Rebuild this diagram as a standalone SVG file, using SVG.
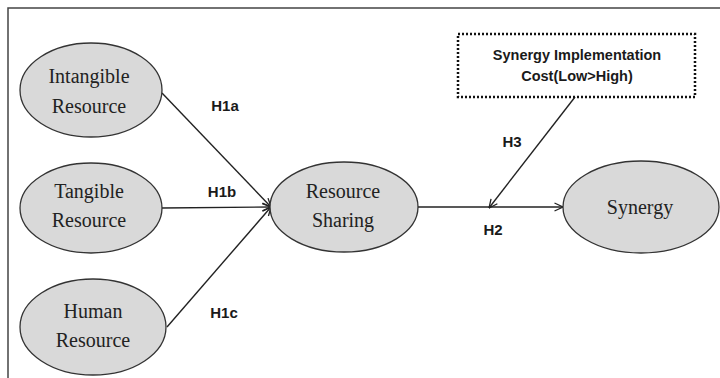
<svg xmlns="http://www.w3.org/2000/svg" width="720" height="378" viewBox="0 0 720 378">
<style>
.node ellipse{fill:#d9d9d9;stroke:#333;stroke-width:1.3}
.nt{font-family:"Liberation Serif",serif;font-size:20px;fill:#222;text-anchor:middle}
.lbl{font-family:"Liberation Sans",Arial,sans-serif;font-weight:bold;font-size:15px;fill:#1a1a1a;text-anchor:middle}
.bt{font-family:"Liberation Sans",Arial,sans-serif;font-weight:bold;font-size:14.5px;fill:#1a1a1a;text-anchor:middle}
.con line{stroke:#222;stroke-width:1.4;fill:none}
.arr{marker-end:url(#open)}
</style>
<defs>
<marker id="open" viewBox="0 0 10 10" refX="9.5" refY="5" markerWidth="10" markerHeight="10" markerUnits="userSpaceOnUse" orient="auto">
<path d="M1,1 L9.5,5 L1,9" fill="none" stroke="#222" stroke-width="1.3"/>
</marker>
</defs>
<rect width="720" height="378" fill="#fff"/>
<g id="frame">
<path d="M8,378 V8 H720" fill="none" stroke="#444" stroke-width="1.5"/>
</g>
<g id="connectors" class="con">
<line class="arr" x1="162" y1="93" x2="271" y2="207"/>
<line class="arr" x1="162" y1="208" x2="271" y2="207"/>
<line class="arr" x1="167" y1="327" x2="271" y2="207"/>
<line class="arr" x1="418" y1="207" x2="563" y2="207"/>
<line class="arr" x1="575" y1="97" x2="489" y2="208"/>
</g>
<g id="labels">
<text class="lbl" x="225" y="111">H1a</text>
<text class="lbl" x="222" y="197">H1b</text>
<text class="lbl" x="224" y="318">H1c</text>
<text class="lbl" x="512" y="147">H3</text>
<text class="lbl" x="493" y="235">H2</text>
</g>
<g id="intangible" class="node">
<ellipse cx="91" cy="90" rx="71" ry="47"/>
<text class="nt" x="89" y="83">Intangible</text>
<text class="nt" x="89" y="113">Resource</text>
</g>
<g id="tangible" class="node">
<ellipse cx="91" cy="208" rx="71" ry="45"/>
<text class="nt" x="89" y="198">Tangible</text>
<text class="nt" x="89" y="227">Resource</text>
</g>
<g id="human" class="node">
<ellipse cx="93" cy="327" rx="73" ry="48"/>
<text class="nt" x="93" y="318">Human</text>
<text class="nt" x="93" y="347">Resource</text>
</g>
<g id="resource-sharing" class="node">
<ellipse cx="344" cy="207" rx="74" ry="45"/>
<text class="nt" x="343" y="198">Resource</text>
<text class="nt" x="343" y="227">Sharing</text>
</g>
<g id="synergy" class="node">
<ellipse cx="641" cy="207" rx="78" ry="46"/>
<text class="nt" x="640" y="214">Synergy</text>
</g>
<g id="cost-box">
<rect x="458" y="34" width="237" height="63" fill="#fff" stroke="#111" stroke-width="2.5" stroke-dasharray="2 2"/>
<text class="bt" x="577" y="60">Synergy Implementation</text>
<text class="bt" x="577" y="81">Cost(Low&gt;High)</text>
</g>
</svg>
